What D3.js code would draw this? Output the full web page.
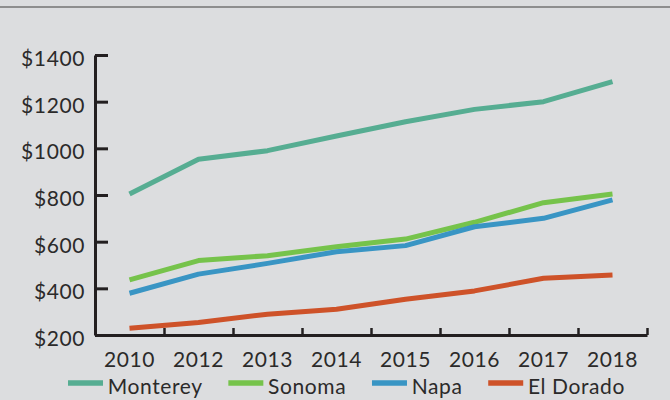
<!DOCTYPE html>
<html>
<head>
<meta charset="utf-8">
<script src="https://cdn.jsdelivr.net/npm/d3@7"></script>
<style>
  html, body { margin: 0; padding: 0; background: #dcdddf; }
  svg { display: block; }
  text { font-family: Lato, "Noto Sans", sans-serif; fill: #2b2a2a; }
</style>
</head>
<body>
<svg id="chart" width="670" height="400"></svg>
<script>
const years = ["2010", "2012", "2013", "2014", "2015", "2016", "2017", "2018"];
const monterey = [804, 953, 990, 1053, 1114, 1167, 1200, 1286];
const sonoma   = [436, 519, 540, 578, 611, 683, 767, 804];
const napa     = [379, 461, 507, 557, 583, 664, 700, 779];
const elDorado = [229, 254, 289, 310, 353, 389, 443, 457];
const seriesNames = ["Monterey", "Sonoma", "Napa", "El Dorado"];
const seriesColors = ["#56ad92", "#76c34b", "#3995c4", "#ce5229"];
const yTicks = [200, 400, 600, 800, 1000, 1200, 1400];

(function () {
const seriesValues = [monterey, sonoma, napa, elDorado];
const svg = d3.select("#chart");
const W = 670, H = 400;
const mLeft = 95, mRight = 647, mTop = 55, mBottom = 335;
const axisColor = "#231f20";
const FONT = "Lato, 'Noto Sans', sans-serif";
const FS = 21;

svg.append("rect").attr("width", W).attr("height", H).attr("fill", "#dcdddf");
svg.append("line").attr("x1", 0).attr("x2", W).attr("y1", 7).attr("y2", 7)
  .attr("stroke", "#8e8e8e").attr("stroke-width", 2);

const x = d3.scaleBand().domain(years).range([mLeft, mRight]).padding(0);
const xb = d3.scaleLinear().domain([0, years.length]).range([mLeft, mRight]);
const y = d3.scaleLinear().domain([200, 1400]).range([mBottom, mTop]);

// Y axis
const gy = svg.append("g").attr("transform", `translate(${mLeft},0)`)
  .call(d3.axisLeft(y).tickValues(yTicks).tickFormat(d => "$" + d)
    .tickSizeInner(-13).tickSizeOuter(0).tickPadding(10));
gy.select(".domain").attr("stroke", axisColor).attr("stroke-width", 3);
gy.selectAll(".tick line").attr("stroke", axisColor).attr("stroke-width", 3);
gy.selectAll(".tick text").attr("font-size", FS).attr("dy", "0.5em")
  .attr("font-family", FONT).attr("fill", "#2b2a2a").attr("letter-spacing", 0.6);

// X axis line + boundary ticks
const gxb = svg.append("g").attr("transform", `translate(0,${mBottom})`)
  .call(d3.axisBottom(xb).tickValues(d3.range(1, years.length + 1)).tickFormat("")
    .tickSizeInner(-7).tickSizeOuter(0));
gxb.select(".domain").attr("stroke", axisColor).attr("stroke-width", 3);
gxb.selectAll(".tick line").attr("stroke", axisColor).attr("stroke-width", 2.5);

// X labels
const gx = svg.append("g").attr("transform", `translate(0,${mBottom})`)
  .call(d3.axisBottom(x).tickSize(0).tickPadding(17.5));
gx.select(".domain").remove();
gx.selectAll(".tick text").attr("font-size", FS).attr("letter-spacing", 0.6)
  .attr("font-family", FONT).attr("fill", "#2b2a2a");

// Lines
const line = d3.line().x((d, i) => x(years[i]) + x.bandwidth() / 2).y(d => y(d));
seriesValues.forEach((vals, s) => {
  svg.append("path").datum(vals).attr("d", line)
    .attr("fill", "none").attr("stroke", seriesColors[s])
    .attr("stroke-width", 5).attr("stroke-linejoin", "round");
});

// Legend: spread between x=68 and x=625
const lgLeft = 68, lgRight = 625, swatch = 35, txtGap = 4.7;
const lg = svg.append("g").attr("transform", "translate(0,383)");
const groups = seriesNames.map((name, s) => {
  const g = lg.append("g");
  g.append("line").attr("x1", 0).attr("x2", swatch).attr("y1", 0).attr("y2", 0)
    .attr("stroke", seriesColors[s]).attr("stroke-width", 5.5);
  const t = g.append("text").attr("x", swatch + txtGap).attr("y", 10.5)
    .attr("font-size", FS).attr("font-family", FONT).attr("letter-spacing", 0.6).text(name);
  return { g, w: swatch + txtGap + t.node().getComputedTextLength() };
});
const sumW = d3.sum(groups, d => d.w);
const gap = (lgRight - lgLeft - sumW) / (groups.length - 1);
let cx = lgLeft;
groups.forEach(d => { d.g.attr("transform", `translate(${cx},0)`); cx += d.w + gap; });
})();
</script>
</body>
</html>
